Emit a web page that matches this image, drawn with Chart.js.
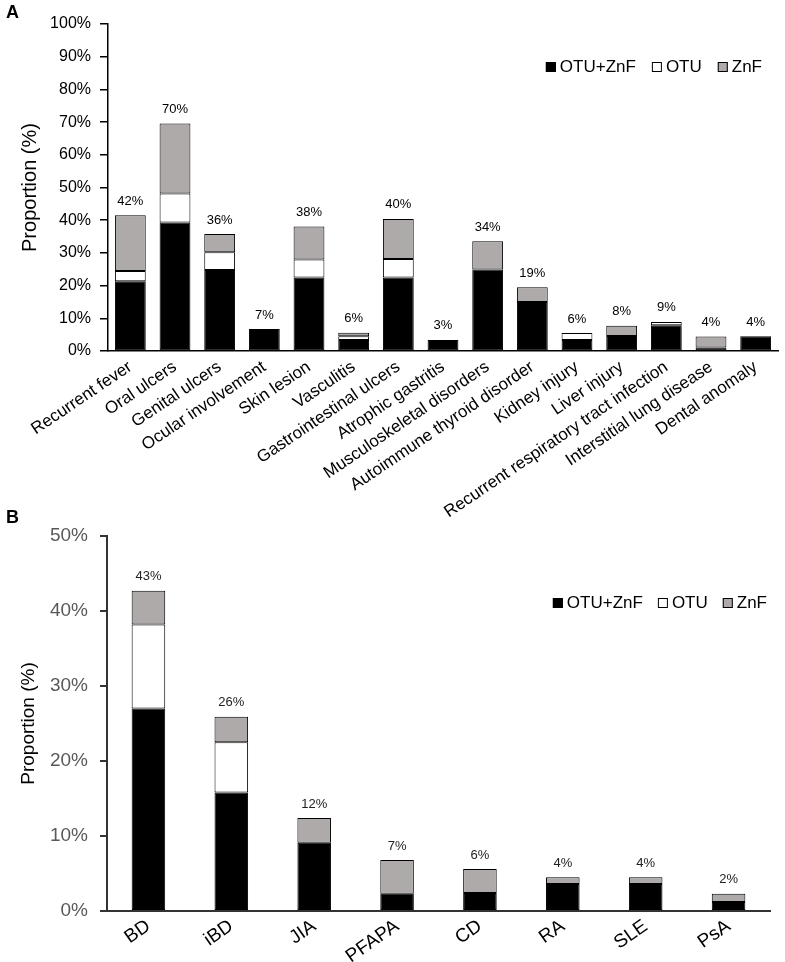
<!DOCTYPE html>
<html>
<head>
<meta charset="utf-8">
<script src="https://cdn.jsdelivr.net/npm/chart.js@4.4.1/dist/chart.umd.min.js"></script>
<style>
  html, body { margin:0; padding:0; background:#fff; }
  body { width:785px; height:962px; position:relative; overflow:hidden; font-family:'Liberation Sans', Arial, sans-serif; }
  .panel { position:absolute; left:6px; font-weight:bold; font-size:18px; color:#000; }
  #wrapA { position:absolute; left:0; top:0; width:785px; height:545px; }
  #wrapB { position:absolute; left:0; top:510px; width:785px; height:452px; }
</style>
</head>
<body>
<div id="wrapA"><canvas id="chartA" width="785" height="545"></canvas></div>
<div id="wrapB"><canvas id="chartB" width="785" height="452"></canvas></div>
<div class="panel" style="top:2px;">A</div>
<div class="panel" style="top:507px;">B</div>
<script>
// ---------- Panel A data ----------
const categoriesA = ['Recurrent fever','Oral ulcers','Genital ulcers','Ocular involvement','Skin lesion','Vasculitis','Gastrointestinal ulcers','Atrophic gastritis','Musculoskeletal disorders','Autoimmune thyroid disorder','Kidney injury','Liver injury','Recurrent respiratory tract infection','Interstitial lung disease','Dental anomaly'];
const otuZnfA = [21.3, 39.3, 24.8, 6.7, 22.5, 3.4, 22.5, 3.4, 24.9, 15.0, 3.4, 4.6, 7.9, 1.1, 4.5];
const otuA    = [3.2, 8.9, 5.4, 0, 5.5, 1.1, 5.6, 0, 0, 0, 2.1, 0, 1.0, 0, 0];
const znfA    = [17.0, 21.4, 5.6, 0, 10.1, 1.1, 12.3, 0, 8.7, 4.5, 0, 3.1, 0, 3.3, 0];
const totalLabelsA = ['42%','70%','36%','7%','38%','6%','40%','3%','34%','19%','6%','8%','9%','4%','4%'];

// ---------- Panel B data ----------
const categoriesB = ['BD','iBD','JIA','PFAPA','CD','RA','SLE','PsA'];
const otuZnfB = [27.0, 15.8, 9.1, 2.3, 2.4, 3.6, 3.6, 1.2];
const otuB    = [11.2, 6.7, 0, 0, 0, 0, 0, 0];
const znfB    = [4.5, 3.4, 3.3, 4.5, 3.2, 0.9, 0.9, 1.1];
const totalLabelsB = ['43%','26%','12%','7%','6%','4%','4%','2%'];

const seriesNames = ['OTU+ZnF','OTU','ZnF'];
const seriesColors = ['#000000','#ffffff','#aeaaaa'];

const FONT = "'Liberation Sans', Arial, sans-serif";

const barTotals = {
  id: 'barTotals',
  afterDatasetsDraw(chart, args, opts) {
    const ctx = chart.ctx;
    ctx.save();
    ctx.font = opts.font;
    ctx.fillStyle = opts.color;
    ctx.textAlign = 'center';
    ctx.textBaseline = 'middle';
    opts.labels.forEach((t, i) => {
      let top = Infinity, x = 0;
      chart.data.datasets.forEach((d, di) => {
        const el = chart.getDatasetMeta(di).data[i];
        if (el) { top = Math.min(top, el.y); x = el.x; }
      });
      ctx.fillText(t, x, top - opts.offset);
    });
    ctx.restore();
  }
};

const boxLegend = {
  id: 'boxLegend',
  afterDraw(chart, args, opts) {
    const ctx = chart.ctx;
    ctx.save();
    ctx.font = opts.font;
    ctx.textBaseline = 'middle';
    const items = chart.data.datasets.map(d => ({ text: d.label, fill: d.backgroundColor }));
    const widths = items.map(it => ctx.measureText(it.text).width);
    const total = items.reduce((s, it, i) => s + opts.box + opts.boxGap + widths[i], 0) + opts.itemGap * (items.length - 1);
    let x = opts.right - total;
    items.forEach((it, i) => {
      ctx.fillStyle = it.fill;
      ctx.fillRect(x, opts.y - opts.box / 2, opts.box, opts.box);
      ctx.strokeStyle = '#000';
      ctx.lineWidth = 1;
      ctx.strokeRect(x + 0.5, opts.y - opts.box / 2 + 0.5, opts.box - 1, opts.box - 1);
      x += opts.box + opts.boxGap;
      ctx.fillStyle = opts.color;
      ctx.fillText(it.text, x, opts.y);
      x += widths[i] + opts.itemGap;
    });
    ctx.restore();
  }
};

function makeDatasets(a, b, c, barPct) {
  return [a, b, c].map((vals, i) => ({
    label: seriesNames[i],
    data: vals,
    backgroundColor: seriesColors[i],
    borderColor: '#000000',
    borderWidth: 1,
    borderSkipped: false,
    categoryPercentage: 1,
    barPercentage: barPct
  }));
}

// ---------- Chart A ----------
new Chart(document.getElementById('chartA'), {
  type: 'bar',
  data: { labels: categoriesA, datasets: makeDatasets(otuZnfA, otuA, znfA, 0.69) },
  options: {
    responsive: false,
    animation: false,
    layout: { padding: { left: 0, right: 7, top: 24, bottom: 0 } },
    plugins: {
      legend: { display: false },
      tooltip: { enabled: false },
      barTotals: { labels: totalLabelsA, font: '13px ' + FONT, color: '#000', offset: 14 },
      boxLegend: { font: '17px ' + FONT, color: '#000', right: 762, y: 67, box: 10, boxGap: 4, itemGap: 16 }
    },
    scales: {
      x: {
        stacked: true,
        grid: { display: false, drawTicks: false },
        border: { display: true, color: '#000', width: 1.5 },
        ticks: { color: '#000', font: { family: FONT, size: 17 }, minRotation: 34, maxRotation: 34, autoSkip: false, padding: 6 },
        afterFit(scale) { scale.height = 194; }
      },
      y: {
        stacked: true,
        min: 0, max: 100,
        grid: { drawOnChartArea: false, drawTicks: true, tickLength: 8, color: '#000', lineWidth: 1.5 },
        border: { display: true, color: '#000', width: 1.5 },
        ticks: { stepSize: 10, color: '#000', font: { family: FONT, size: 16 }, padding: 9, callback: v => v + '%' },
        title: { display: true, text: 'Proportion (%)', color: '#000', font: { family: FONT, size: 20 }, padding: { top: 18, bottom: 0 } },
        afterFit(scale) { scale.width = 108; }
      }
    }
  },
  plugins: [barTotals, boxLegend]
});

// ---------- Chart B ----------
new Chart(document.getElementById('chartB'), {
  type: 'bar',
  data: { labels: categoriesB, datasets: makeDatasets(otuZnfB, otuB, znfB, 0.405) },
  options: {
    responsive: false,
    animation: false,
    layout: { padding: { left: 0, right: 15, top: 26, bottom: 0 } },
    plugins: {
      legend: { display: false },
      tooltip: { enabled: false },
      barTotals: { labels: totalLabelsB, font: '13px ' + FONT, color: '#222', offset: 14 },
      boxLegend: { font: '17px ' + FONT, color: '#000', right: 767, y: 93, box: 10, boxGap: 4, itemGap: 15 }
    },
    scales: {
      x: {
        stacked: true,
        grid: { display: false, drawTicks: false },
        border: { display: true, color: '#333', width: 2 },
        ticks: { color: '#000', font: { family: FONT, size: 19 }, minRotation: 35, maxRotation: 35, autoSkip: false, padding: 4 },
        afterFit(scale) { scale.height = 51; }
      },
      y: {
        stacked: true,
        min: 0, max: 50,
        grid: { drawOnChartArea: false, drawTicks: true, tickLength: 7, color: '#333', lineWidth: 2 },
        border: { display: true, color: '#333', width: 2 },
        ticks: { stepSize: 10, color: '#595959', font: { family: FONT, size: 19 }, padding: 12, callback: v => v + '%' },
        title: { display: true, text: 'Proportion (%)', color: '#000', font: { family: FONT, size: 19 }, padding: { top: 17, bottom: 0 } },
        afterFit(scale) { scale.width = 107; }
      }
    }
  },
  plugins: [barTotals, boxLegend]
});
</script>
</body>
</html>
